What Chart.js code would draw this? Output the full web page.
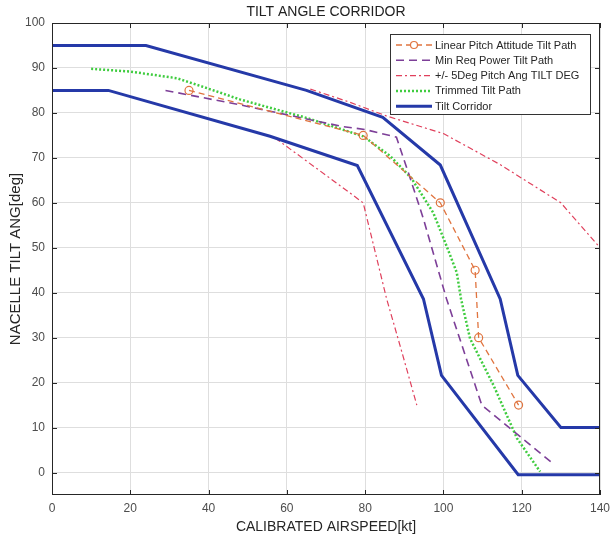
<!DOCTYPE html>
<html>
<head>
<meta charset="utf-8">
<script src="https://cdn.jsdelivr.net/npm/chart.js@4.4.1/dist/chart.umd.min.js"></script>
<style>
  html, body { margin: 0; padding: 0; background: #fff; }
  #wrap { width: 611px; height: 544px; }
</style>
</head>
<body>
<div id="wrap"><canvas id="tilt-chart" width="611" height="544"></canvas></div>
<script>
const speedTicks = [0, 20, 40, 60, 80, 100, 120, 140]
const tiltTicks = [0, 10, 20, 30, 40, 50, 60, 70, 80, 90, 100]

const upperSpeed = [0, 24, 65, 84.5, 99.2, 114.5, 119, 130, 140]
const upperTilt = [95, 95, 85, 79, 68.4, 38.6, 21.6, 10, 10]

const lowerSpeed = [0, 14.4, 55.7, 78, 94.9, 99.5, 119.1, 140]
const lowerTilt = [85, 85, 74.8, 68.3, 38.6, 21.6, -0.5, -0.5]

const linearSpeed = [35, 79.5, 99.2, 108.1, 109, 119.2]
const linearTilt = [85, 75, 60, 45, 30, 15]

const minPowerSpeed = [29, 48, 74, 80, 88, 91.5, 94.9, 100.8, 109.8, 128]
const minPowerTilt = [85, 81.8, 77, 76.3, 74.6, 65.5, 56.4, 38.6, 15, 2]

const plusSpeed = [66, 76, 85.5, 100, 114.5, 130, 140]
const plusTilt = [85.3, 82.4, 79.3, 75.4, 68.5, 60, 50]

const minusSpeed = [57, 70.2, 79.5, 85.5, 88.9, 93.2]
const minusTilt = [74.4, 66, 60, 38.6, 28.3, 15]

const trimSpeed = [10, 20, 32, 42, 48, 65, 79.5, 86.4, 91.8, 97.4, 100.8, 103.4, 104.5, 106.8, 112.8, 118.8, 124.7]
const trimTilt = [89.8, 89.2, 87.7, 84.8, 83, 78.9, 74.8, 70.4, 65.5, 57.8, 50.4, 44.5, 38.6, 29.8, 19.4, 7.6, 0.2]

function toPoints(xs, ys) {
  return xs.map((x, i) => ({ x, y: ys[i] }))
}

const blue = '#2539a8'
const orange = '#e0743f'
const purple = '#7d3f98'
const red = '#e0405c'
const green = '#3fcc3f'

const legendItems = [
  { label: 'Linear Pitch Attitude Tilt Path', color: orange, width: 1.3, dash: [6, 4], marker: true },
  { label: 'Min Req Power Tilt Path', color: purple, width: 1.6, dash: [8, 5] },
  { label: '+/- 5Deg Pitch Ang TILT DEG', color: red, width: 1.2, dash: [6, 3, 2, 3] },
  { label: 'Trimmed Tilt Path', color: green, width: 2.5, dash: [2, 2] },
  { label: 'Tilt Corridor', color: blue, width: 3, dash: [] },
]

const frameAndLegend = {
  id: 'frameAndLegend',
  afterDraw(chart) {
    const { ctx, chartArea: area, scales } = chart
    ctx.save()

    // box and inward ticks
    ctx.strokeStyle = '#262626'
    ctx.lineWidth = 1
    ctx.setLineDash([])
    ctx.strokeRect(area.left + 0.5, area.top + 0.5, area.right - area.left - 1, area.bottom - area.top - 1)
    ctx.beginPath()
    speedTicks.forEach((v) => {
      const px = Math.round(scales.x.getPixelForValue(v)) + 0.5
      ctx.moveTo(px, area.bottom); ctx.lineTo(px, area.bottom - 5)
      ctx.moveTo(px, area.top); ctx.lineTo(px, area.top + 5)
    })
    tiltTicks.forEach((v) => {
      const py = Math.round(scales.y.getPixelForValue(v)) + 0.5
      ctx.moveTo(area.left, py); ctx.lineTo(area.left + 5, py)
      ctx.moveTo(area.right, py); ctx.lineTo(area.right - 5, py)
    })
    ctx.stroke()

    // title
    ctx.fillStyle = '#222'
    ctx.font = '14px "Liberation Sans", Arial, sans-serif'
    ctx.textAlign = 'center'
    ctx.textBaseline = 'middle'
    ctx.fillText('TILT ANGLE CORRIDOR', (area.left + area.right) / 2, 12)

    // legend
    const box = { left: 390.5, top: 34.5, right: 590.5, bottom: 114.5 }
    ctx.fillStyle = '#fff'
    ctx.fillRect(box.left, box.top, box.right - box.left, box.bottom - box.top)
    ctx.strokeStyle = '#333'
    ctx.lineWidth = 1
    ctx.strokeRect(box.left, box.top, box.right - box.left, box.bottom - box.top)
    ctx.font = '11px "Liberation Sans", Arial, sans-serif'
    ctx.textAlign = 'left'
    legendItems.forEach((item, i) => {
      const y = box.top + 10.5 + i * 15.3
      ctx.strokeStyle = item.color
      ctx.lineWidth = item.width
      ctx.setLineDash(item.dash)
      ctx.beginPath()
      ctx.moveTo(396, y)
      ctx.lineTo(432, y)
      ctx.stroke()
      if (item.marker) {
        ctx.setLineDash([])
        ctx.lineWidth = 1.2
        ctx.fillStyle = '#fff'
        ctx.beginPath()
        ctx.arc(414, y, 3.5, 0, Math.PI * 2)
        ctx.fill()
        ctx.stroke()
      }
      ctx.fillStyle = '#262626'
      ctx.fillText(item.label, 435, y + 0.5)
    })
    ctx.restore()
  },
}

const baseLine = { fill: false, tension: 0, pointRadius: 0, pointHoverRadius: 0 }

new Chart(document.getElementById('tilt-chart'), {
  type: 'line',
  data: {
    datasets: [
      { ...baseLine, label: 'Tilt Corridor', data: toPoints(upperSpeed, upperTilt), borderColor: blue, borderWidth: 3 },
      { ...baseLine, label: 'Tilt Corridor lower', data: toPoints(lowerSpeed, lowerTilt), borderColor: blue, borderWidth: 3 },
      {
        ...baseLine,
        label: 'Linear Pitch Attitude Tilt Path',
        data: toPoints(linearSpeed, linearTilt),
        borderColor: orange,
        borderWidth: 1.3,
        borderDash: [6, 4],
        pointRadius: 4,
        pointBorderColor: orange,
        pointBackgroundColor: 'rgba(255,255,255,0)',
        pointBorderWidth: 1.2,
      },
      { ...baseLine, label: 'Min Req Power Tilt Path', data: toPoints(minPowerSpeed, minPowerTilt), borderColor: purple, borderWidth: 1.6, borderDash: [8, 5] },
      { ...baseLine, label: '+/- 5Deg Pitch Ang TILT DEG', data: toPoints(plusSpeed, plusTilt), borderColor: red, borderWidth: 1.2, borderDash: [6, 3, 2, 3] },
      { ...baseLine, label: '+/- 5Deg lower', data: toPoints(minusSpeed, minusTilt), borderColor: red, borderWidth: 1.2, borderDash: [6, 3, 2, 3] },
      { ...baseLine, label: 'Trimmed Tilt Path', data: toPoints(trimSpeed, trimTilt), borderColor: green, borderWidth: 2.5, borderDash: [2, 2] },
    ],
  },
  options: {
    responsive: false,
    animation: false,
    layout: { padding: { top: 23, right: 11, left: 0, bottom: 0 } },
    plugins: {
      legend: { display: false },
      tooltip: { enabled: false },
      title: { display: false },
    },
    scales: {
      x: {
        type: 'linear',
        min: 0,
        max: 140,
        afterFit: (scale) => {
          scale.height = 49
          scale.paddingLeft = 0
          scale.paddingRight = 0
        },
        afterBuildTicks: (scale) => { scale.ticks = speedTicks.map((value) => ({ value })) },
        ticks: { color: '#4d4d4d', font: { size: 12, family: '"Liberation Sans", Arial' }, padding: 6, maxRotation: 0 },
        grid: { color: '#dedede', drawTicks: false },
        border: { display: false },
        title: {
          display: true,
          text: 'CALIBRATED AIRSPEED[kt]',
          color: '#262626',
          font: { size: 14, family: '"Liberation Sans", Arial' },
          padding: { top: 0, bottom: 8 },
        },
      },
      y: {
        type: 'linear',
        min: -5,
        max: 100,
        afterFit: (scale) => {
          scale.width = 52
          scale.paddingTop = 0
          scale.paddingBottom = 0
        },
        afterBuildTicks: (scale) => { scale.ticks = tiltTicks.map((value) => ({ value })) },
        ticks: { color: '#4d4d4d', font: { size: 12, family: '"Liberation Sans", Arial' }, padding: 7 },
        grid: { color: '#dedede', drawTicks: false },
        border: { display: false },
        title: {
          display: true,
          text: 'NACELLE TILT ANG[deg]',
          color: '#262626',
          font: { size: 15, family: '"Liberation Sans", Arial' },
          padding: { top: 7, bottom: 0 },
        },
      },
    },
  },
  plugins: [frameAndLegend],
})
</script>
</body>
</html>
